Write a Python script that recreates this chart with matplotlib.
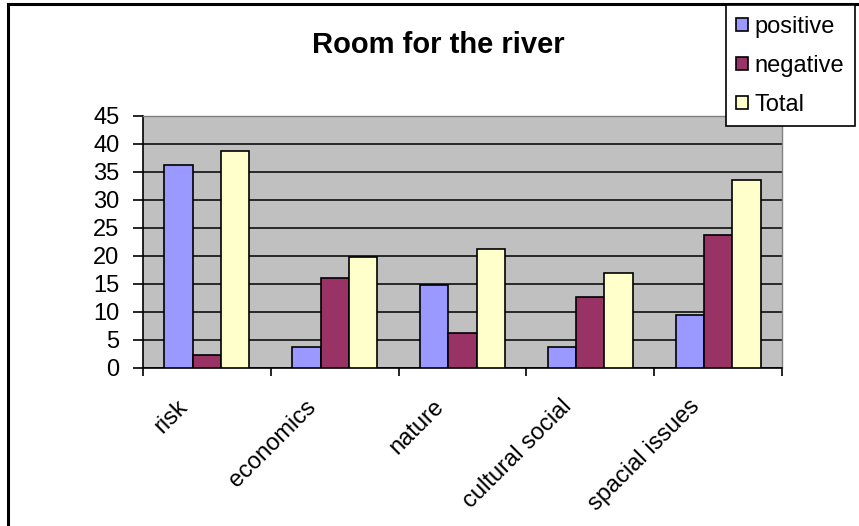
import matplotlib
matplotlib.use("Agg")
import matplotlib.pyplot as plt
from matplotlib.lines import Line2D
from matplotlib.transforms import ScaledTranslation
import numpy as np

plt.rcParams['font.family'] = ['Liberation Sans', 'DejaVu Sans']

categories = ["risk", "economics", "nature", "cultural social", "spacial issues"]
positive = [36.3, 3.8, 14.9, 3.8, 9.4]
negative = [2.3, 16.0, 6.3, 12.7, 23.8]
total = [38.8, 19.9, 21.3, 17.0, 33.5]
series_names = ["positive", "negative", "Total"]
colors = ["#9999FF", "#993366", "#FFFFCC"]

W, H = 859, 526
fig = plt.figure(figsize=(W / 100, H / 100), dpi=100)
ax = fig.add_axes([143 / W, 1 - 368 / H, (782 - 143) / W, (368 - 116) / H])
ax.set_facecolor("#C0C0C0")

x = np.arange(len(categories))
bw = 0.222
handles = []
for i, (vals, c) in enumerate(zip([positive, negative, total], colors)):
    b = ax.bar(x + (i - 1) * bw, vals, width=bw, color=c, edgecolor="black",
               linewidth=1.2, zorder=3, label=series_names[i])
    handles.append(b)

ax.set_xlim(-0.5, len(categories) - 0.5)
ax.set_ylim(0, 45)
ax.set_yticks(np.arange(0, 46, 5))
ax.yaxis.grid(True, color="black", linewidth=1.1, zorder=1)
ax.set_axisbelow(True)

for s in ["top", "right"]:
    ax.spines[s].set_color("#808080")
    ax.spines[s].set_linewidth(1.0)
for s in ["left", "bottom"]:
    ax.spines[s].set_color("black")
    ax.spines[s].set_linewidth(1.2)

ax.tick_params(axis="y", direction="out", length=7, width=1.2, pad=10, labelsize=17)
ax.set_xticks(x)
ax.set_xticklabels(categories, rotation=45, ha="right", va="top",
                   rotation_mode="anchor", fontsize=17)
ax.tick_params(axis="x", which="major", length=0, pad=20)
ax.set_xticks(np.arange(-0.5, len(categories), 1), minor=True)
ax.tick_params(axis="x", which="minor", direction="out", length=6, width=1.2)
offset = ScaledTranslation(-30 / 100, 0, fig.dpi_scale_trans)
for lab in ax.get_xticklabels():
    lab.set_transform(lab.get_transform() + offset)

fig.text(438 / W, 1 - 45 / H, "Room for the river", ha="center", va="center",
         fontsize=21, fontweight="bold")

# outer chart frame (left and top)
fig.add_artist(Line2D([8 / W, 8 / W], [0, 1 - 4 / H], color="black", linewidth=2.2,
                      transform=fig.transFigure, zorder=1))
fig.add_artist(Line2D([8 / W, 1], [1 - 4 / H, 1 - 4 / H], color="black", linewidth=2.2,
                      transform=fig.transFigure, zorder=1))

leg = fig.legend(handles=handles, labels=series_names, loc="upper right",
                 bbox_to_anchor=(855 / W, 1 - 5 / H), fontsize=17,
                 frameon=True, fancybox=False, framealpha=1, edgecolor="black",
                 handlelength=0.5, handleheight=0.5, handletextpad=0.28,
                 labelspacing=0.72, borderpad=0.45, borderaxespad=0)
leg.get_frame().set_linewidth(1.2)
leg.set_zorder(5)

fig.savefig("out.png", dpi=100)
